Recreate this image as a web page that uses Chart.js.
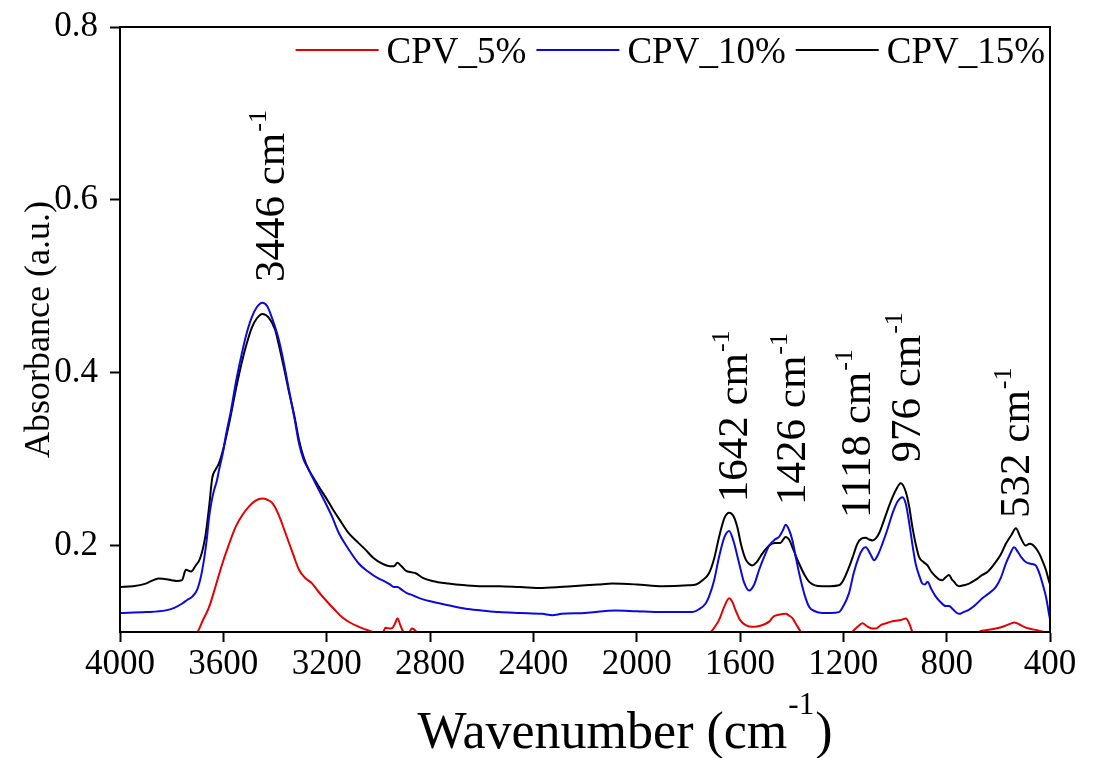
<!DOCTYPE html>
<html>
<head>
<meta charset="utf-8">
<script src="https://cdn.jsdelivr.net/npm/chart.js@4.4.1/dist/chart.umd.min.js"></script>
<style>
  html, body { margin: 0; padding: 0; background: #fff; }
  #wrap { width: 1095px; height: 758px; position: relative; }
</style>
</head>
<body>
<div id="wrap"><canvas id="c"></canvas></div>
<script>
const FONT = "'Liberation Serif', 'Times New Roman', serif";

const seriesNames = ["CPV_5%", "CPV_10%", "CPV_15%"];
const seriesColors = ["#e60000", "#0a0adc", "#000000"];

// CPV_5% (red)
const redWn = [4000, 3760, 3720, 3700, 3680, 3655, 3630, 3604, 3580, 3552, 3525, 3501, 3475, 3449, 3430, 3410, 3385, 3359, 3330, 3307, 3285, 3256, 3230, 3204, 3170, 3140, 3110, 3075, 3050, 3023, 3000, 2985, 2972, 2955, 2945, 2935, 2926, 2915, 2905, 2895, 2880, 2870, 2862, 2850, 2830,
  1760, 1713, 1695, 1681, 1660, 1642, 1630, 1617, 1600, 1578, 1550, 1526, 1505, 1487, 1470, 1450, 1423, 1410, 1397, 1385, 1365, 1350,
  1190, 1165, 1145, 1126, 1110, 1090, 1074, 1055, 1036, 1015, 997, 978, 958, 945, 933, 920,
  700, 675, 650, 610, 575, 550, 539, 520, 500, 481, 450, 423, 400];
const redAbs = [0.09, 0.09, 0.095, 0.100, 0.113, 0.129, 0.153, 0.179, 0.200, 0.222, 0.236, 0.245, 0.252, 0.2545, 0.253, 0.249, 0.235, 0.214, 0.190, 0.172, 0.163, 0.156, 0.146, 0.137, 0.126, 0.117, 0.111, 0.106, 0.103, 0.100, 0.095, 0.097, 0.105, 0.104, 0.105, 0.110, 0.116, 0.108, 0.101, 0.098, 0.100, 0.104, 0.103, 0.099, 0.09,
  0.09, 0.100, 0.107, 0.114, 0.130, 0.139, 0.135, 0.125, 0.114, 0.108, 0.106, 0.107, 0.109, 0.112, 0.118, 0.120, 0.121, 0.119, 0.116, 0.110, 0.100, 0.09,
  0.09, 0.100, 0.106, 0.110, 0.107, 0.104, 0.104, 0.108, 0.110, 0.112, 0.113, 0.114, 0.1155, 0.110, 0.100, 0.09,
  0.09, 0.100, 0.102, 0.104, 0.107, 0.110, 0.111, 0.109, 0.106, 0.104, 0.102, 0.100, 0.098];

// CPV_10% (blue)
const blueWn = [4000, 3900, 3823, 3790, 3759, 3740, 3720, 3700, 3682, 3665, 3655, 3645, 3636, 3625, 3617, 3600, 3591, 3570, 3552, 3530, 3513, 3490, 3470, 3449, 3430, 3410, 3385, 3365, 3346, 3325, 3307, 3290, 3268, 3240, 3204, 3180, 3152, 3120, 3075, 3040, 3000, 2985, 2955, 2940, 2926, 2910, 2890, 2870, 2855, 2830, 2791, 2730, 2662, 2600, 2533, 2450, 2365, 2326, 2290, 2200, 2081, 2000, 1900, 1784, 1760, 1733, 1720, 1700, 1681, 1660, 1642, 1625, 1603, 1585, 1565, 1545, 1526, 1505, 1487, 1465, 1449, 1435, 1423, 1410, 1397, 1385, 1371, 1350, 1332, 1310, 1281, 1250, 1217, 1200, 1178, 1160, 1140, 1125, 1113, 1095, 1081, 1065, 1049, 1030, 1010, 990, 971, 958, 945, 932, 920, 905, 894, 884, 874, 860, 842, 825, 804, 791, 775, 760, 752, 735, 713, 690, 662, 640, 610, 590, 571, 555, 539, 525, 510, 494, 475, 455, 440, 429, 415, 404, 400];
const blueAbs = [0.122, 0.123, 0.125, 0.128, 0.133, 0.137, 0.141, 0.150, 0.171, 0.205, 0.233, 0.252, 0.264, 0.275, 0.287, 0.310, 0.326, 0.357, 0.388, 0.420, 0.442, 0.464, 0.476, 0.481, 0.477, 0.462, 0.438, 0.410, 0.380, 0.348, 0.318, 0.300, 0.287, 0.270, 0.249, 0.234, 0.214, 0.198, 0.179, 0.170, 0.162, 0.160, 0.155, 0.152, 0.152, 0.149, 0.145, 0.143, 0.141, 0.138, 0.135, 0.131, 0.127, 0.125, 0.123, 0.122, 0.121, 0.1195, 0.121, 0.122, 0.125, 0.124, 0.123, 0.123, 0.126, 0.133, 0.141, 0.160, 0.187, 0.210, 0.217, 0.205, 0.179, 0.158, 0.148, 0.155, 0.172, 0.188, 0.200, 0.207, 0.210, 0.217, 0.224, 0.218, 0.206, 0.188, 0.168, 0.143, 0.129, 0.124, 0.122, 0.122, 0.123, 0.130, 0.145, 0.168, 0.187, 0.196, 0.198, 0.190, 0.183, 0.190, 0.202, 0.218, 0.237, 0.251, 0.256, 0.248, 0.226, 0.200, 0.179, 0.164, 0.156, 0.155, 0.158, 0.150, 0.141, 0.135, 0.130, 0.130, 0.126, 0.122, 0.121, 0.123, 0.126, 0.131, 0.139, 0.144, 0.152, 0.163, 0.179, 0.190, 0.198, 0.193, 0.186, 0.181, 0.179, 0.177, 0.167, 0.156, 0.140, 0.121, 0.115];

// CPV_15% (black)
const blackWn = [4000, 3950, 3900, 3850, 3800, 3780, 3760, 3745, 3725, 3707, 3690, 3670, 3655, 3643, 3630, 3617, 3600, 3575, 3552, 3530, 3513, 3490, 3470, 3449, 3425, 3400, 3385, 3365, 3346, 3325, 3307, 3290, 3270, 3250, 3230, 3200, 3178, 3150, 3114, 3080, 3049, 3020, 2985, 2955, 2940, 2926, 2910, 2894, 2870, 2855, 2830, 2791, 2730, 2662, 2600, 2533, 2450, 2365, 2250, 2150, 2094, 2000, 1900, 1800, 1770, 1745, 1720, 1700, 1681, 1660, 1642, 1625, 1610, 1595, 1578, 1565, 1552, 1535, 1513, 1487, 1465, 1445, 1423, 1410, 1397, 1385, 1371, 1350, 1332, 1310, 1281, 1250, 1217, 1200, 1178, 1160, 1146, 1130, 1113, 1100, 1087, 1075, 1062, 1050, 1036, 1015, 997, 978, 958, 945, 933, 920, 907, 890, 874, 860, 842, 830, 816, 805, 791, 780, 771, 760, 752, 735, 713, 690, 662, 640, 610, 590, 571, 550, 532, 515, 494, 480, 468, 455, 442, 430, 416, 405, 400];
const blackAbs = [0.152, 0.153, 0.156, 0.162, 0.160, 0.159, 0.160, 0.172, 0.170, 0.177, 0.185, 0.210, 0.245, 0.278, 0.288, 0.295, 0.312, 0.345, 0.380, 0.410, 0.430, 0.452, 0.463, 0.468, 0.464, 0.450, 0.432, 0.405, 0.378, 0.350, 0.322, 0.303, 0.288, 0.278, 0.268, 0.254, 0.243, 0.230, 0.214, 0.204, 0.195, 0.186, 0.179, 0.176, 0.176, 0.180, 0.176, 0.171, 0.169, 0.168, 0.163, 0.159, 0.156, 0.154, 0.153, 0.153, 0.152, 0.151, 0.153, 0.155, 0.156, 0.155, 0.153, 0.154, 0.155, 0.160, 0.168, 0.185, 0.210, 0.232, 0.238, 0.234, 0.221, 0.200, 0.184, 0.179, 0.177, 0.181, 0.191, 0.200, 0.203, 0.203, 0.210, 0.207, 0.198, 0.189, 0.179, 0.166, 0.158, 0.154, 0.153, 0.153, 0.154, 0.160, 0.175, 0.190, 0.202, 0.208, 0.209, 0.207, 0.206, 0.208, 0.214, 0.223, 0.235, 0.252, 0.264, 0.272, 0.262, 0.245, 0.222, 0.202, 0.187, 0.181, 0.177, 0.170, 0.164, 0.161, 0.160, 0.163, 0.166, 0.161, 0.158, 0.154, 0.153, 0.154, 0.156, 0.160, 0.166, 0.170, 0.181, 0.190, 0.202, 0.212, 0.220, 0.210, 0.200, 0.202, 0.201, 0.197, 0.191, 0.183, 0.172, 0.160, 0.155];

const xTicks = [4000, 3600, 3200, 2800, 2400, 2000, 1600, 1200, 800, 400];
const yTicks = [0.2, 0.4, 0.6, 0.8];

// peak annotations: text, where the text centre sits (cm-1), where the text starts (absorbance)
const peakLabels = ["3446", "1642", "1426", "1118", "976", "532"];
const peakLabelWn = [3419, 1627, 1402, 1151, 957, 535];
const peakLabelAbs = [0.505, 0.250, 0.247, 0.232, 0.296, 0.232];

const wnSets = [redWn, blueWn, blackWn];
const absSets = [redAbs, blueAbs, blackAbs];

// drop the room Chart.js keeps for half a tick label at the axis ends
const noEndPadding = (s, size) => {
  if (s.isHorizontal()) s.height = size; else s.width = size;
  s.paddingTop = 0; s.paddingBottom = 0; s.paddingLeft = 0; s.paddingRight = 0;
};

const extras = {
  id: "extras",
  afterDraw(chart) {
    const { ctx, chartArea: a, scales } = chart;
    ctx.save();
    ctx.fillStyle = "#000";

    // box round the plot
    ctx.strokeStyle = "#000";
    ctx.lineWidth = 2;
    ctx.strokeRect(a.left, a.top, a.right - a.left, a.bottom - a.top);

    // peak labels, rotated
    peakLabels.forEach((t, i) => {
      const px = scales.x.getPixelForValue(peakLabelWn[i]);
      const py = scales.y.getPixelForValue(peakLabelAbs[i]);
      ctx.save();
      ctx.translate(px + 14, py);
      ctx.rotate(-Math.PI / 2);
      ctx.textAlign = "left";
      ctx.textBaseline = "alphabetic";
      ctx.font = "43px " + FONT;
      const main = t + " cm";
      ctx.fillText(main, 0, 0);
      const w = ctx.measureText(main).width;
      ctx.font = "26px " + FONT;
      ctx.fillText("-1", w + 1, -18);
      ctx.restore();
    });

    // x title with superscript
    ctx.textAlign = "left";
    ctx.textBaseline = "alphabetic";
    const t1 = "Wavenumber (cm", t2 = "-1", t3 = ")";
    ctx.font = "52px " + FONT;
    const w1 = ctx.measureText(t1).width, w3 = ctx.measureText(t3).width;
    ctx.font = "31px " + FONT;
    const w2 = ctx.measureText(t2).width;
    let xs = (a.left + a.right) / 2 + 40 - (w1 + w2 + w3 + 2) / 2;
    const yb = 748;
    ctx.font = "52px " + FONT;
    ctx.fillText(t1, xs, yb);
    ctx.font = "31px " + FONT;
    ctx.fillText(t2, xs + w1 + 1, yb - 34);
    ctx.font = "52px " + FONT;
    ctx.fillText(t3, xs + w1 + w2 + 2, yb);

    // y title
    ctx.save();
    ctx.translate(49, (a.top + a.bottom) / 2);
    ctx.rotate(-Math.PI / 2);
    ctx.textAlign = "center";
    ctx.font = "36px " + FONT;
    ctx.fillText("Absorbance (a.u.)", 0, 0);
    ctx.restore();

    // legend, inside the plot at the top right
    ctx.font = "37px " + FONT;
    const lineLen = 83, gap = 8, itemGap = 10;
    const widths = seriesNames.map(n => ctx.measureText(n).width);
    const total = widths.reduce((s, w) => s + w, 0) + seriesNames.length * (lineLen + gap) + (seriesNames.length - 1) * itemGap;
    let lx = a.right - 5 - total;
    const ly = a.top + 23;
    seriesNames.forEach((n, i) => {
      ctx.strokeStyle = seriesColors[i];
      ctx.lineWidth = 2;
      ctx.beginPath();
      ctx.moveTo(lx, ly);
      ctx.lineTo(lx + lineLen, ly);
      ctx.stroke();
      ctx.fillStyle = "#000";
      ctx.fillText(n, lx + lineLen + gap, ly + 13);
      lx += lineLen + gap + widths[i] + itemGap;
    });

    ctx.restore();
  }
};

new Chart(document.getElementById("c"), {
  type: "line",
  data: {
    datasets: seriesNames.map((name, i) => ({
      label: name,
      data: wnSets[i].map((x, k) => ({ x, y: absSets[i][k] })),
      borderColor: seriesColors[i],
      borderWidth: 2,
      pointRadius: 0,
      fill: false,
      cubicInterpolationMode: "monotone",
      clip: 0,
    })),
  },
  options: {
    responsive: true,
    maintainAspectRatio: false,
    animation: false,
    devicePixelRatio: 1,
    layout: { padding: { top: 27, right: 45, left: 0, bottom: 0 } },
    plugins: { legend: { display: false }, tooltip: { enabled: false } },
    scales: {
      x: {
        type: "linear",
        reverse: true,
        min: 400,
        max: 4000,
        afterBuildTicks: (s) => { s.ticks = xTicks.map((v) => ({ value: v })); },
        afterFit: (s) => noEndPadding(s, 126),
        grid: { drawOnChartArea: false, drawTicks: true, tickLength: 10, tickWidth: 2, tickColor: "#000" },
        border: { display: true, color: "#000", width: 2 },
        ticks: {
          color: "#000",
          font: { family: FONT, size: 35 },
          padding: 2,
          maxRotation: 0,
          autoSkip: false,
          callback: (v) => String(v),
        },
      },
      y: {
        min: 0.1,
        max: 0.8,
        afterBuildTicks: (s) => { s.ticks = yTicks.map((v) => ({ value: v })); },
        afterFit: (s) => noEndPadding(s, 120),
        grid: { drawOnChartArea: false, drawTicks: true, tickLength: 10, tickWidth: 2, tickColor: "#000" },
        border: { display: true, color: "#000", width: 2 },
        ticks: {
          color: "#000",
          font: { family: FONT, size: 35 },
          padding: 12,
          callback: (v) => Number(v).toFixed(1),
        },
      },
    },
  },
  plugins: [extras],
});
</script>
</body>
</html>
